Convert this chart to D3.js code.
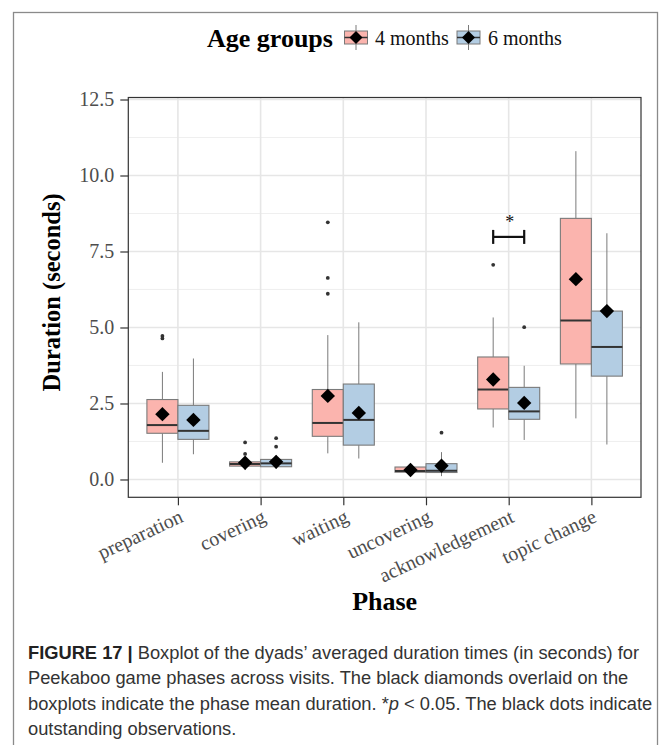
<!DOCTYPE html>
<html><head><meta charset="utf-8">
<script src="https://cdn.jsdelivr.net/npm/d3@7"></script>
<style>
html,body{margin:0;padding:0;background:#fff;}
svg{display:block;}
</style></head>
<body>
<svg id="chart" width="672" height="745"></svg>
<script>
// ---------- data ----------
const phases = ["preparation","covering","waiting","uncovering","acknowledgement","topic change"];
const groups = ["4 months","6 months"];
const groupColors = ["#FBB4AE","#B3CDE3"];
const yTicks = [0, 2.5, 5, 7.5, 10, 12.5];

// 4 months
const q1_4   = [1.52, 0.44, 1.42, 0.24, 2.32, 3.80];
const med_4  = [1.79, 0.51, 1.86, 0.28, 2.96, 5.23];
const q3_4   = [2.63, 0.58, 2.96, 0.41, 4.03, 8.59];
const lo_4   = [0.55, 0.31, 0.86, 0.14, 1.71, 2.01];
const hi_4   = [3.54, 0.70, 4.75, 0.53, 5.33, 10.80];
const mean_4 = [2.15, 0.55, 2.75, 0.31, 3.29, 6.59];
const out_4  = [[4.72, 4.64], [1.22, 0.84], [8.46, 6.63, 6.11], [], [7.06], []];

// 6 months
const q1_6   = [1.32, 0.42, 1.13, 0.23, 1.98, 3.40];
const med_6  = [1.60, 0.53, 1.96, 0.29, 2.24, 4.36];
const q3_6   = [2.44, 0.66, 3.14, 0.52, 3.03, 5.54];
const lo_6   = [0.83, 0.35, 0.69, 0.11, 1.30, 1.15];
const hi_6   = [3.98, 0.80, 5.17, 0.90, 3.74, 8.10];
const mean_6 = [1.96, 0.58, 2.19, 0.45, 2.52, 5.54];
const out_6  = [[], [1.36, 1.08], [], [1.54], [5.01], []];

// significance annotation
const sigPhase = "acknowledgement";
const sigY = 7.98;
const sigLabel = "*";

const captionLines = [
  "Boxplot of the dyads\u2019 averaged duration times (in seconds) for",
  "Peekaboo game phases across visits. The black diamonds overlaid on the",
  "boxplots indicate the phase mean duration. ",
  "outstanding observations."
];

// ---------- build ----------
const stats = [
  {q1:q1_4, med:med_4, q3:q3_4, lo:lo_4, hi:hi_4, mean:mean_4, out:out_4},
  {q1:q1_6, med:med_6, q3:q3_6, lo:lo_6, hi:hi_6, mean:mean_6, out:out_6}
];
const boxes = [];
groups.forEach((g, gi) => {
  phases.forEach((p, pi) => {
    const s = stats[gi];
    boxes.push({phase:p, gi, q1:s.q1[pi], med:s.med[pi], q3:s.q3[pi], lo:s.lo[pi], hi:s.hi[pi], mean:s.mean[pi], out:s.out[pi]});
  });
});

const svg = d3.select("#chart");
const serif = "'Liberation Serif','Times New Roman',serif";
const sans = "'Liberation Sans',Arial,sans-serif";

// outer frame
svg.append("rect").attr("x",13.5).attr("y",12.5).attr("width",644).attr("height",760)
  .attr("fill","none").attr("stroke","#8a8a8a").attr("stroke-width",1.3);

const L = 128.3, R = 641, T = 97.5, B = 497.3;
const x = d3.scalePoint().domain(phases).range([L, R]).padding(0.6);
const y = d3.scaleLinear().domain([-0.586, 12.566]).range([B, T]);
const step = x.step();
const bw = step * 0.375;
const dodge = d3.scaleBand().domain([0,1]).range([-bw, bw]);

const g = svg.append("g");

// grid
const minorY = [1.25, 3.75, 6.25, 8.75, 11.25];
g.selectAll(".minor").data(minorY).enter().append("line")
  .attr("x1",L).attr("x2",R).attr("y1",d=>y(d)).attr("y2",d=>y(d))
  .attr("stroke","#EBEBEB").attr("stroke-width",0.8);
g.selectAll(".majy").data(yTicks).enter().append("line")
  .attr("x1",L).attr("x2",R).attr("y1",d=>y(d)).attr("y2",d=>y(d))
  .attr("stroke","#E6E6E6").attr("stroke-width",1.6);
g.selectAll(".majx").data(phases).enter().append("line")
  .attr("y1",T).attr("y2",B).attr("x1",d=>x(d)).attr("x2",d=>x(d))
  .attr("stroke","#E6E6E6").attr("stroke-width",1.6);

// boxes
const bg = g.selectAll(".box").data(boxes).enter().append("g")
  .attr("transform", d => `translate(${x(d.phase) + dodge(d.gi)},0)`);
const boxW = dodge.bandwidth();
const wc = "#7a7a7a";
bg.append("line").attr("x1",boxW/2).attr("x2",boxW/2)
  .attr("y1",d=>y(d.hi)).attr("y2",d=>y(d.q3)).attr("stroke",wc).attr("stroke-width",1);
bg.append("line").attr("x1",boxW/2).attr("x2",boxW/2)
  .attr("y1",d=>y(d.q1)).attr("y2",d=>y(d.lo)).attr("stroke",wc).attr("stroke-width",1);
bg.append("rect").attr("x",0).attr("width",boxW)
  .attr("y",d=>y(d.q3)).attr("height",d=>y(d.q1)-y(d.q3))
  .attr("fill",d=>groupColors[d.gi]).attr("stroke",wc).attr("stroke-width",1.1);
bg.append("line").attr("x1",0).attr("x2",boxW)
  .attr("y1",d=>y(d.med)).attr("y2",d=>y(d.med)).attr("stroke","#333").attr("stroke-width",2);
bg.selectAll(".out").data(d=>d.out).enter().append("circle")
  .attr("cx",boxW/2).attr("cy",v=>y(v)).attr("r",1.9).attr("fill","#333");
const dia = 7.2;
bg.append("path")
  .attr("d", d => `M${boxW/2},${y(d.mean)-dia} l${dia},${dia} l${-dia},${dia} l${-dia},${-dia} Z`)
  .attr("fill","#000");

// panel border
g.append("rect").attr("x",L).attr("y",T).attr("width",R-L).attr("height",B-T)
  .attr("fill","none").attr("stroke","#333").attr("stroke-width",1.2);

// significance bar
const sx1 = x(sigPhase) + dodge(0) + boxW/2, sx2 = x(sigPhase) + dodge(1) + boxW/2;
const sy = y(sigY);
const sg = g.append("g").attr("stroke","#111").attr("stroke-width",2.2);
sg.append("line").attr("x1",sx1).attr("x2",sx2).attr("y1",sy).attr("y2",sy);
sg.append("line").attr("x1",sx1).attr("x2",sx1).attr("y1",sy-7).attr("y2",sy+7);
sg.append("line").attr("x1",sx2).attr("x2",sx2).attr("y1",sy-7).attr("y2",sy+7);
g.append("text").attr("x",x(sigPhase)+1).attr("y",sy-9).attr("text-anchor","middle")
  .attr("font-family",serif).attr("font-size",18).attr("fill","#111").text(sigLabel);

// y axis
const ya = svg.append("g").attr("transform",`translate(${L},0)`)
  .call(d3.axisLeft(y).tickValues(yTicks).tickFormat(d3.format(".1f")).tickSize(8).tickPadding(6));
ya.select(".domain").remove();
ya.selectAll(".tick line").attr("stroke","#333").attr("stroke-width",1.2);
ya.selectAll(".tick text").attr("font-family",serif).attr("font-size",20).attr("fill","#4D4D4D");

// x axis
const xa = svg.append("g").attr("transform",`translate(0,${B})`)
  .call(d3.axisBottom(x).tickSize(8).tickPadding(3));
xa.select(".domain").remove();
xa.selectAll(".tick line").attr("stroke","#333").attr("stroke-width",1.2);
xa.selectAll(".tick text")
  .attr("font-family",serif).attr("font-size",20).attr("fill","#4D4D4D")
  .attr("text-anchor","end").attr("dy",null).attr("y",0)
  .attr("transform","translate(6,24) rotate(-25)");

// axis titles
svg.append("text").attr("transform",`translate(60,${(T+B)/2 - 5}) rotate(-90)`)
  .attr("text-anchor","middle").attr("font-family",serif).attr("font-weight","bold")
  .attr("font-size",24.5).attr("fill","#000").text("Duration (seconds)");
svg.append("text").attr("x",(L+R)/2).attr("y",610).attr("text-anchor","middle")
  .attr("font-family",serif).attr("font-weight","bold").attr("font-size",26)
  .attr("fill","#000").text("Phase");

// legend
const lg = svg.append("g");
lg.append("text").attr("x",207).attr("y",47).attr("font-family",serif).attr("font-weight","bold")
  .attr("font-size",26).attr("fill","#000").text("Age groups");
const keyX = [344.5, 457];
const labX = [375, 488];
groups.forEach((gname, i) => {
  const k = lg.append("g").attr("transform",`translate(${keyX[i]},31)`);
  k.append("line").attr("x1",11.5).attr("x2",11.5).attr("y1",-6).attr("y2",19).attr("stroke",wc);
  k.append("rect").attr("width",23).attr("height",13).attr("fill",groupColors[i]).attr("stroke",wc).attr("stroke-width",1);
  k.append("line").attr("x1",0).attr("x2",23).attr("y1",6.5).attr("y2",6.5).attr("stroke","#333").attr("stroke-width",1.5);
  k.append("path").attr("d","M11.5,0 l6.5,6.5 l-6.5,6.5 l-6.5,-6.5 Z").attr("fill","#000");
  lg.append("text").attr("x",labX[i]).attr("y",45).attr("font-family",serif)
    .attr("font-size",20).attr("fill","#111").text(gname);
});

// caption
const cap = svg.append("g").attr("font-family",sans).attr("font-size",18.3).attr("fill","#333");
const capY = [658.5, 684, 709.5, 735];
const t0 = cap.append("text").attr("x",28).attr("y",capY[0]);
t0.append("tspan").attr("font-weight","bold").attr("fill","#222").text("FIGURE 17 | ");
t0.append("tspan").text(captionLines[0]);
cap.append("text").attr("x",28).attr("y",capY[1]).text(captionLines[1]);
const t2 = cap.append("text").attr("x",28).attr("y",capY[2]);
t2.append("tspan").text(captionLines[2] + "*");
t2.append("tspan").attr("font-style","italic").text("p");
t2.append("tspan").text(" < 0.05. The black dots indicate");
cap.append("text").attr("x",28).attr("y",capY[3]).text(captionLines[3]);
</script>
</body></html>
